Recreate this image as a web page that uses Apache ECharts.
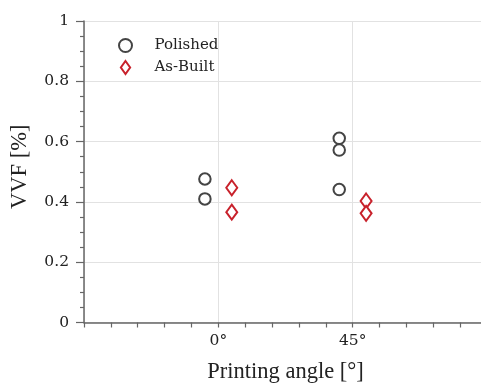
<!DOCTYPE html>
<html><head><meta charset="utf-8">
<script src="https://cdn.jsdelivr.net/npm/echarts@6/dist/echarts.min.js"></script>
<style>html,body{margin:0;padding:0;background:#fff;overflow:hidden}#c{width:490px;height:389px}</style>
</head><body><div id="c"></div>
<script>
const seriesNames = ['Polished', 'As-Built'];
const polishedAngles = [-4.5, -4.5, 40.5, 40.5, 40.5];
const polishedVVF = [0.476, 0.41, 0.611, 0.572, 0.441];
const asBuiltAngles = [4.5, 4.5, 49.5, 49.5];
const asBuiltVVF = [0.447, 0.366, 0.403, 0.362];
const xTickLabels = {0: '0°', 45: '45°'};

const NAMEFONT = 'Liberation Serif';
const TICKFONT = 'DejaVu Serif';
const chart = echarts.init(document.getElementById('c'));
const pairs = (xs, ys) => xs.map((x, i) => [x, ys[i]]);
chart.setOption({
  animation: false,
  backgroundColor: '#fff',
  grid: {left: 84, top: 21, height: 301.5, width: 405, containLabel: false},
  legend: {
    orient: 'vertical', left: 118, top: 38, padding: 0, itemGap: 7,
    itemWidth: 14, itemHeight: 13,
    textStyle: {fontFamily: TICKFONT, fontSize: 15, color: '#222', padding: [0, 0, 0, 17]},
    data: [
      {name: seriesNames[0], icon: 'circle'},
      {name: seriesNames[1], icon: 'path://M5,0 L10,7 L5,14 L0,7 Z'}
    ]
  },
  xAxis: {
    type: 'value', min: -45, max: 90, interval: 45,
    name: 'Printing angle [°]', nameLocation: 'middle', nameGap: 38,
    nameTextStyle: {fontFamily: NAMEFONT, fontSize: 22.5, color: '#222'},
    axisLine: {onZero: false, lineStyle: {color: '#666', width: 1.5}},
    axisTick: {show: true, length: 5, lineStyle: {color: '#666', width: 1.2}},
    minorTick: {show: true, splitNumber: 5, length: 5, lineStyle: {color: '#666', width: 1.2}},
    axisLabel: {margin: 10, fontFamily: TICKFONT, fontSize: 15.5, color: '#222',
      formatter: v => xTickLabels[v] || ''},
    splitLine: {show: true, lineStyle: {color: '#e2e2e2', width: 1}}
  },
  yAxis: {
    type: 'value', min: 0, max: 1, interval: 0.2,
    name: 'VVF [%]', nameLocation: 'middle', nameGap: 52,
    nameTextStyle: {fontFamily: NAMEFONT, fontSize: 22.5, color: '#222', padding: [0, 0, 0, 10]},
    axisLine: {show: true, onZero: false, lineStyle: {color: '#666', width: 1.5}},
    axisTick: {show: true, length: 8, lineStyle: {color: '#666', width: 1.2}},
    minorTick: {show: true, splitNumber: 4, length: 4, lineStyle: {color: '#666', width: 1.2}},
    axisLabel: {margin: 15, fontFamily: TICKFONT, fontSize: 15.5, color: '#222',
      formatter: v => String(Math.round(v * 10) / 10)},
    splitLine: {show: true, lineStyle: {color: '#e2e2e2', width: 1}}
  },
  series: [
    {name: seriesNames[0], type: 'scatter', symbol: 'circle', symbolSize: 11.5,
     itemStyle: {color: '#fff', borderColor: '#444', borderWidth: 2, opacity: 1},
     data: pairs(polishedAngles, polishedVVF)},
    {name: seriesNames[1], type: 'scatter', symbol: 'diamond', symbolSize: [11, 15],
     itemStyle: {color: '#fff', borderColor: '#c8212b', borderWidth: 2, opacity: 1},
     data: pairs(asBuiltAngles, asBuiltVVF)}
  ]
});
</script></body></html>
